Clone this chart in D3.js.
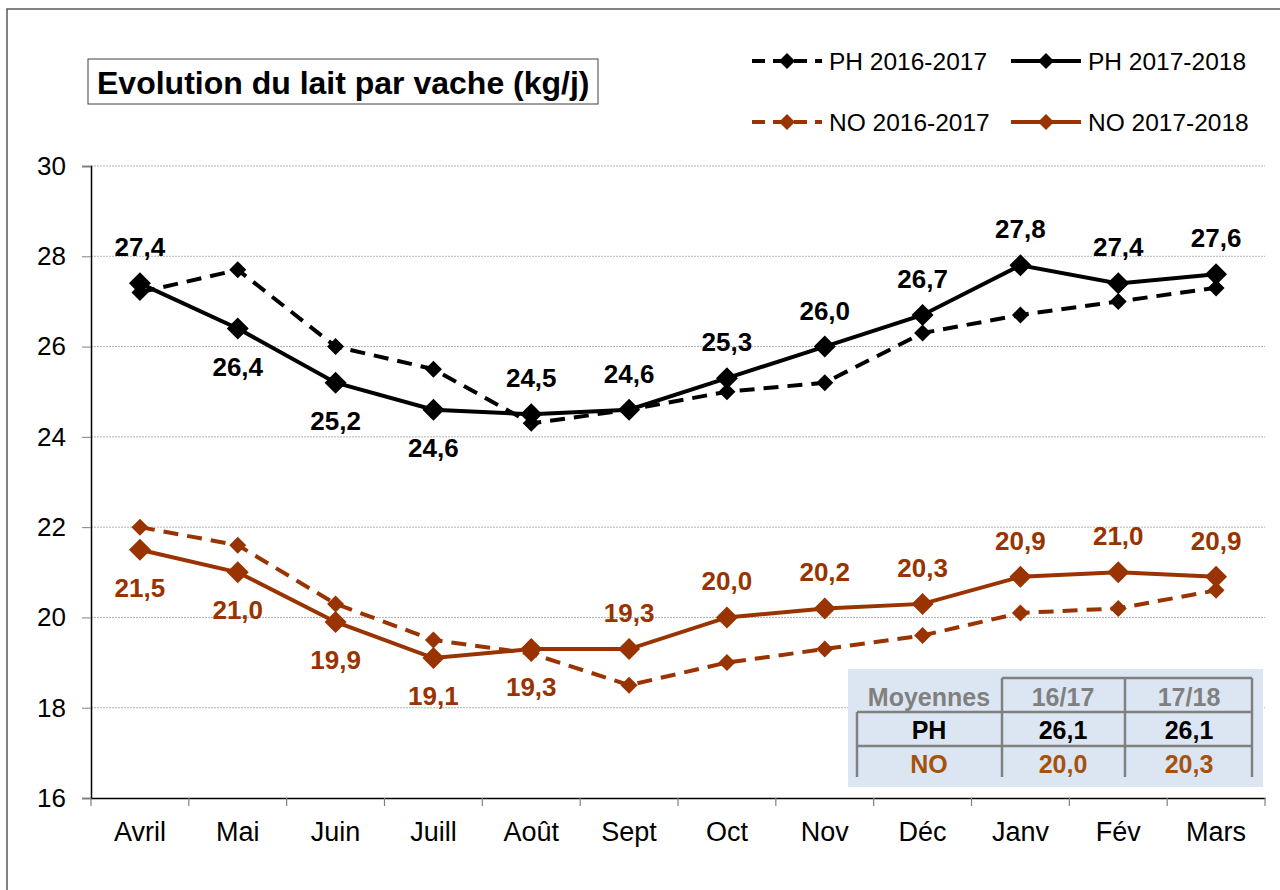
<!DOCTYPE html>
<html>
<head>
<meta charset="utf-8">
<script src="https://cdn.jsdelivr.net/npm/d3@7"></script>
<style>
  body { margin: 0; background: #fff; }
  text { font-family: "Liberation Sans", Arial, sans-serif; }
</style>
</head>
<body>
<svg id="chart" width="1280" height="890"></svg>
<script>
// data
var months = ["Avril", "Mai", "Juin", "Juill", "Août", "Sept", "Oct", "Nov", "Déc", "Janv", "Fév", "Mars"];
var ph1617 = [27.2, 27.7, 26.0, 25.5, 24.3, 24.6, 25.0, 25.2, 26.3, 26.7, 27.0, 27.3];
var ph1718 = [27.4, 26.4, 25.2, 24.6, 24.5, 24.6, 25.3, 26.0, 26.7, 27.8, 27.4, 27.6];
var no1617 = [22.0, 21.6, 20.3, 19.5, 19.2, 18.5, 19.0, 19.3, 19.6, 20.1, 20.2, 20.6];
var no1718 = [21.5, 21.0, 19.9, 19.1, 19.3, 19.3, 20.0, 20.2, 20.3, 20.9, 21.0, 20.9];
var yTicks = [16, 18, 20, 22, 24, 26, 28, 30];
var tableHead = ["Moyennes", "16/17", "17/18"];
var tableRows = [["PH", "26,1", "26,1"], ["NO", "20,0", "20,3"]];

// which labels go under the point (the rest go above)
var phBelow = [false, true, true, true, false, false, false, false, false, false, false, false];
var noBelow = [true, true, true, true, true, false, false, false, false, false, false, false];

var BLACK = "#000000", BROWN = "#993300", TABLE_BROWN = "#a5520f";

var series = [
    {name: "PH 2016-2017", values: ph1617, color: BLACK, dashed: true},
    {name: "NO 2016-2017", values: no1617, color: BROWN, dashed: true},
    {name: "PH 2017-2018", values: ph1718, color: BLACK, dashed: false, below: phBelow},
    {name: "NO 2017-2018", values: no1718, color: BROWN, dashed: false, below: noBelow}
];

var svg = d3.select("#chart");

// outer frame
svg.append("rect")
    .attr("x", 7).attr("y", 9)
    .attr("width", 1300).attr("height", 900)
    .attr("fill", "none")
    .attr("stroke", "#595959")
    .attr("stroke-width", 1.5);

var plotLeft = 91, plotRight = 1265, plotTop = 166, plotBottom = 798;

var x = d3.scaleBand().domain(months).range([plotLeft, plotRight]);
var y = d3.scaleLinear().domain([16, 30]).range([plotBottom, plotTop]);

// gridlines
svg.append("g")
    .selectAll("line")
    .data(yTicks.filter(function(d){ return d > 16; }))
    .enter()
    .append("line")
    .attr("x1", plotLeft).attr("x2", plotRight)
    .attr("y1", function(d){ return y(d); })
    .attr("y2", function(d){ return y(d); })
    .attr("stroke", "#b3b3b3")
    .attr("stroke-width", 1)
    .attr("stroke-dasharray", "2,1");

// y axis
var yAxis = svg.append("g")
    .attr("transform", "translate(" + plotLeft + ",0)")
    .call(d3.axisLeft(y).tickValues(yTicks).tickSize(9).tickPadding(16).tickFormat(d3.format("d")));
yAxis.select(".domain").attr("stroke", "#000").attr("stroke-width", 1.5);
yAxis.selectAll(".tick line").attr("stroke", "#808080");
yAxis.selectAll(".tick text")
    .attr("font-size", 26)
    .attr("font-family", "Liberation Sans, Arial, sans-serif")
    .attr("fill", "#000");

// x axis
var xAxis = svg.append("g")
    .attr("transform", "translate(0," + plotBottom + ")")
    .call(d3.axisBottom(x).tickSize(0).tickPadding(24));
xAxis.select(".domain").attr("stroke", "#000").attr("stroke-width", 1.5);
xAxis.selectAll(".tick text")
    .attr("font-size", 27)
    .attr("font-family", "Liberation Sans, Arial, sans-serif")
    .attr("fill", "#000");
// category boundary ticks
xAxis.append("g")
    .selectAll("line")
    .data(months.concat(["end"]))
    .enter()
    .append("line")
    .attr("x1", function(d, i){ return plotLeft + i * x.step(); })
    .attr("x2", function(d, i){ return plotLeft + i * x.step(); })
    .attr("y1", 0).attr("y2", 8)
    .attr("stroke", "#808080")
    .attr("stroke-width", 1.2);

// lines
var line = d3.line()
    .x(function(d, i){ return x(months[i]) + x.bandwidth() / 2; })
    .y(function(d){ return y(d); });

function diamond(r){
    return "M0," + (-r) + "L" + r + ",0L0," + r + "L" + (-r) + ",0Z";
}

series.forEach(function(s){
    var g = svg.append("g");
    g.append("path")
        .datum(s.values)
        .attr("d", line)
        .attr("fill", "none")
        .attr("stroke", s.color)
        .attr("stroke-width", 4)
        .attr("stroke-dasharray", s.dashed ? "15,9" : null);
    g.selectAll(".pt")
        .data(s.values)
        .enter()
        .append("path")
        .attr("class", "pt")
        .attr("d", diamond(s.dashed ? 8.5 : 11))
        .attr("transform", function(d, i){
            return "translate(" + (x(months[i]) + x.bandwidth() / 2) + "," + y(d) + ")";
        })
        .attr("fill", s.color);
});

// data labels on the 2017-2018 series
var fmt = function(v){ return d3.format(".1f")(v).replace(".", ","); };
series.filter(function(s){ return !s.dashed; }).forEach(function(s){
    svg.append("g")
        .selectAll("text")
        .data(s.values)
        .enter()
        .append("text")
        .attr("x", function(d, i){ return x(months[i]) + x.bandwidth() / 2; })
        .attr("y", function(d, i){ return y(d) + (s.below[i] ? 47 : -27); })
        .attr("text-anchor", "middle")
        .attr("font-size", 26)
        .attr("font-weight", "bold")
        .attr("fill", s.color)
        .text(fmt);
});

// title box
svg.append("rect")
    .attr("x", 88).attr("y", 59)
    .attr("width", 510).attr("height", 45)
    .attr("fill", "#fff")
    .attr("stroke", "#404040")
    .attr("stroke-width", 1);
svg.append("text")
    .attr("x", 97).attr("y", 94)
    .attr("font-size", 32)
    .attr("font-weight", "bold")
    .text("Evolution du lait par vache (kg/j)");

// legend
var legendOrder = [series[0], series[2], series[1], series[3]];
var legend = svg.append("g")
    .selectAll("g")
    .data(legendOrder)
    .enter()
    .append("g")
    .attr("transform", function(d, i){
        return "translate(" + (752 + (i % 2) * 259) + "," + (61 + Math.floor(i / 2) * 61) + ")";
    });
legend.append("line")
    .attr("x1", 0).attr("x2", 70)
    .attr("stroke", function(d){ return d.color; })
    .attr("stroke-width", 4)
    .attr("stroke-dasharray", function(d){ return d.dashed ? "13,8" : null; });
legend.append("path")
    .attr("d", diamond(8))
    .attr("transform", "translate(35,0)")
    .attr("fill", function(d){ return d.color; });
legend.append("text")
    .attr("x", 77).attr("y", 9)
    .attr("font-size", 24.5)
    .attr("fill", "#000")
    .text(function(d){ return d.name; });

// averages table
var tbl = svg.append("g");
tbl.append("rect")
    .attr("x", 848).attr("y", 669)
    .attr("width", 415).attr("height", 118)
    .attr("fill", "#dce6f2");

var colX = [857, 1002, 1125, 1252];
var rowY = [678, 712, 746, 777];
var gridColor = "#808080";
// horizontal rules
tbl.append("line").attr("x1", colX[1]).attr("x2", colX[3]).attr("y1", rowY[0]).attr("y2", rowY[0]);
tbl.append("line").attr("x1", colX[0]).attr("x2", colX[3]).attr("y1", rowY[1]).attr("y2", rowY[1]);
tbl.append("line").attr("x1", colX[0]).attr("x2", colX[3]).attr("y1", rowY[2]).attr("y2", rowY[2]);
// vertical rules
tbl.append("line").attr("x1", colX[0]).attr("x2", colX[0]).attr("y1", rowY[1]).attr("y2", rowY[3]);
[1, 2, 3].forEach(function(c){
    tbl.append("line").attr("x1", colX[c]).attr("x2", colX[c]).attr("y1", rowY[0]).attr("y2", rowY[3]);
});
tbl.selectAll("line").attr("stroke", gridColor).attr("stroke-width", 2.5);

var colCenters = [929, 1063, 1189];
var rowBase = [706, 739, 773];
var rowColors = ["#808080", "#000000", TABLE_BROWN];
[tableHead].concat(tableRows).forEach(function(row, r){
    tbl.append("g")
        .selectAll("text")
        .data(row)
        .enter()
        .append("text")
        .attr("x", function(d, c){ return colCenters[c]; })
        .attr("y", rowBase[r])
        .attr("text-anchor", "middle")
        .attr("font-family", "Lato, 'Open Sans', sans-serif")
        .attr("font-weight", "bold")
        .attr("font-size", 25)
        .attr("fill", rowColors[r])
        .text(function(d){ return d; });
});
</script>
</body>
</html>
